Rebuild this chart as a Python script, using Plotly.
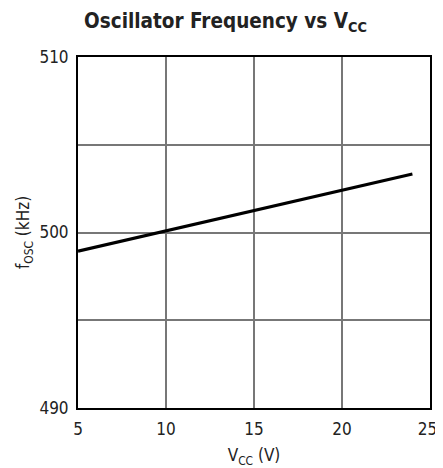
import plotly.graph_objects as go

vcc = [5, 24]
fosc = [498.94, 503.33]

x_ticks = [5, 10, 15, 20, 25]
x_ticktext = ["5", "10", "15", "20", "25\u00a0"]
y_ticks = [490, 495, 500, 505, 510]
y_ticktext = ["490", "", "500", "", "510"]

FONT = "DejaVu Sans Condensed, Liberation Sans Narrow, Arial Narrow, Liberation Sans, Arial"

fig = go.Figure()
fig.add_trace(go.Scatter(x=vcc, y=fosc, mode="lines",
                         line=dict(color="black", width=3.2), showlegend=False))

fig.update_layout(
    width=435, height=460,
    margin=dict(l=70, r=13, t=49, b=60),
    paper_bgcolor="white", plot_bgcolor="white",
    font=dict(family=FONT, color="#222", size=17),
    title=dict(text="<b>Oscillator Frequency vs V<sub>CC</sub></b>",
               x=0.5, xanchor="center", y=0.973, yanchor="middle",
               font=dict(family=FONT, size=20.5, color="#222")),
)
fig.update_xaxes(range=[5, 25], tickvals=x_ticks, ticktext=x_ticktext, ticks="", showgrid=True,
                 gridcolor="#777", gridwidth=1.5, showline=True, linecolor="black",
                 linewidth=2, mirror=True, zeroline=False, automargin=False,
                 ticklabelstandoff=5, ticklabeloverflow="allow",
                 title=dict(text="V<sub>CC</sub> (V)", standoff=13, font=dict(size=17)))
fig.update_yaxes(range=[490, 510], tickvals=y_ticks, ticktext=y_ticktext, ticks="",
                 showgrid=True, gridcolor="#777", gridwidth=1.5, showline=True,
                 linecolor="black", linewidth=2, mirror=True, zeroline=False, automargin=False,
                 ticklabelstandoff=4,
                 title=dict(text="f<sub>OSC</sub> (kHz)", standoff=5, font=dict(size=17)))

fig.write_html("out.html")
